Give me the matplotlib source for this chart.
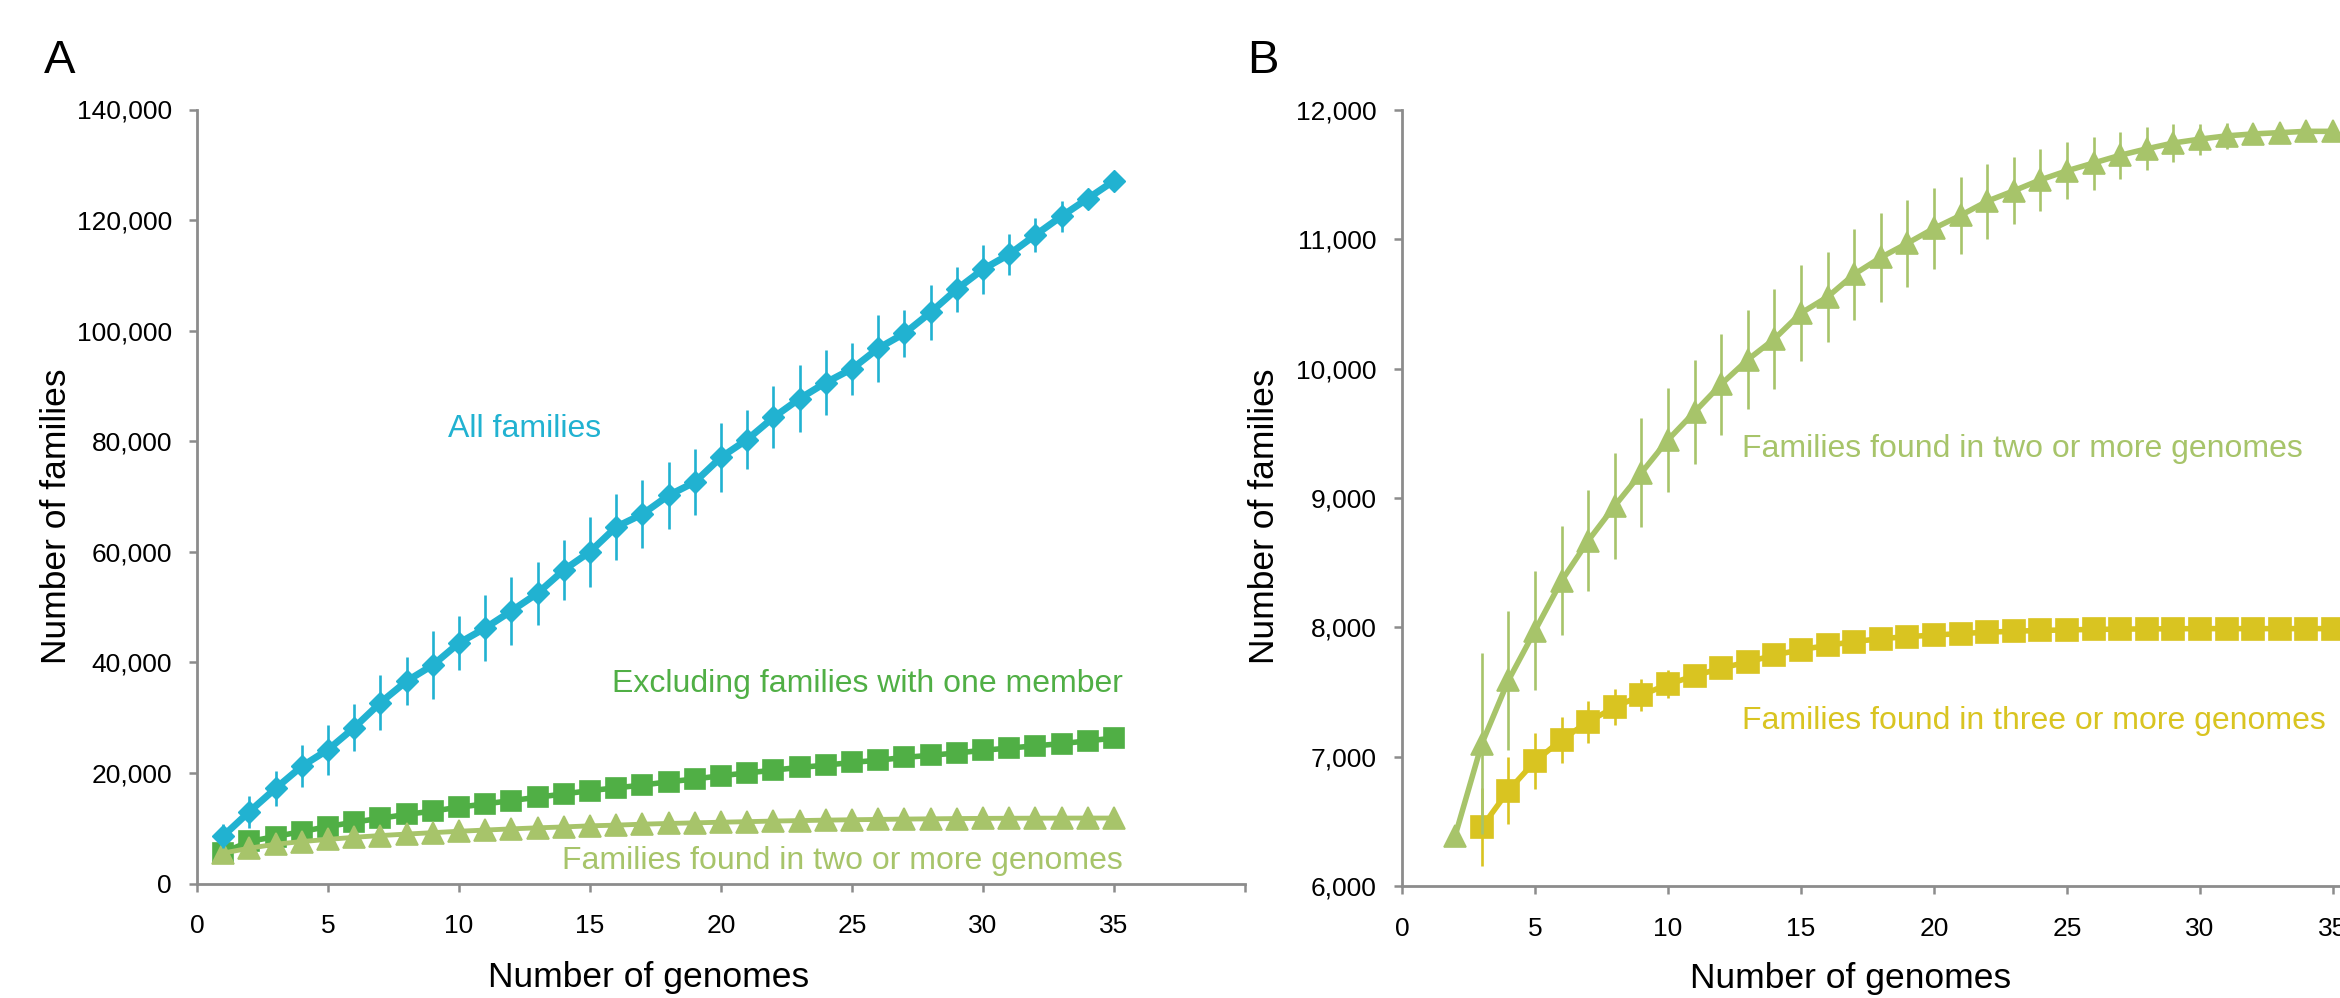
import matplotlib
matplotlib.use('Agg')
import matplotlib.pyplot as plt
from matplotlib.ticker import FuncFormatter

plt.rcParams['font.family'] = ['Liberation Sans', 'DejaVu Sans']

# ---------------- data ----------------
genomes = list(range(1, 36))

all_families = [8600, 13000, 17200, 21200, 24200, 28200, 32700, 36600, 39500, 43500,
                46200, 49300, 52500, 56700, 60000, 64500, 66800, 70200, 72600, 77100,
                80300, 84300, 87700, 90600, 93100, 96800, 99500, 103300, 107500, 111100,
                113800, 117300, 120700, 123900, 127100]
all_families_err = [2100, 2900, 3200, 3800, 4500, 4300, 5000, 4400, 6200, 4800,
                    5900, 6100, 5700, 5500, 6300, 5900, 6200, 6100, 6000, 6200,
                    5400, 5600, 6000, 5900, 4700, 6000, 4200, 5000, 4100, 4400,
                    3700, 3100, 2800, 1200, 0]

excl_single = [5600, 7600, 8500, 9400, 10300, 11100, 11800, 12500, 13100, 13800,
               14400, 15000, 15600, 16200, 16800, 17300, 17800, 18400, 18900, 19500,
               20000, 20500, 21000, 21400, 21900, 22300, 22800, 23200, 23600, 24100,
               24500, 24900, 25300, 25800, 26300]

# families found in two or more genomes (genomes 2..35); panel A also shows genome 1
two_more_genome1 = 5500
two_more_genomes = list(range(2, 36))
two_more = [6390, 7100, 7590, 7975, 8360, 8670, 8940, 9195, 9450, 9665,
            9880, 10070, 10230, 10430, 10555, 10730, 10860, 10970, 11085, 11185,
            11295, 11375, 11460, 11530, 11590, 11650, 11700, 11745, 11775, 11800,
            11815, 11825, 11835, 11835]
two_more_err = [0, 700, 540, 460, 420, 390, 410, 420, 400, 400,
                390, 380, 385, 370, 345, 350, 345, 335, 315, 300,
                290, 258, 240, 220, 205, 182, 165, 145, 120, 100,
                55, 25, 0, 0]

# families found in three or more genomes (genomes 3..35)
three_more_genomes = list(range(3, 36))
three_more = [6455, 6738, 6965, 7130, 7270, 7383, 7475, 7560, 7625, 7685,
              7732, 7785, 7828, 7860, 7890, 7912, 7928, 7940, 7952, 7962,
              7970, 7976, 7980, 7984, 7986, 7988, 7989, 7990, 7990, 7990,
              7990, 7990, 7990]
three_more_err = [300, 262, 218, 178, 162, 140, 125, 110, 80, 65,
                  50, 40, 30, 25, 20, 15, 10, 0, 0, 0,
                  0, 0, 0, 0, 0, 0, 0, 0, 0, 0,
                  0, 0, 0]

x_ticks = [0, 5, 10, 15, 20, 25, 30, 35, 40]
x_tick_labels = ['0', '5', '10', '15', '20', '25', '30', '35', '']
yA_ticks = [0, 20000, 40000, 60000, 80000, 100000, 120000, 140000]
yB_ticks = [6000, 7000, 8000, 9000, 10000, 11000, 12000]

# ---------------- style ----------------
BLUE = '#21B2D1'
GREEN = '#50AF45'
LGREEN = '#A7C46A'
YELLOW = '#D9C421'
AXC = '#8C8C8C'
W, H = 2340, 998

fig = plt.figure(figsize=(W / 100, H / 100), dpi=100)
axA = fig.add_axes([197 / W, (H - 883.5) / H, 1048 / W, 774 / H])
axB = fig.add_axes([1402 / W, (H - 886) / H, 1064 / W, 776 / H])

# ---------------- panel A ----------------
axA.plot(genomes, excl_single, color=GREEN, marker='s', ms=15, mec=GREEN, mew=1.2,
         lw=4, solid_joinstyle='round', zorder=3, clip_on=False)
axA.plot(genomes, [two_more_genome1] + two_more, color=LGREEN, marker='^', ms=15.5,
         mec=LGREEN, mew=1.2, lw=3.5, solid_joinstyle='round', zorder=4, clip_on=False)
axA.errorbar(genomes, all_families, yerr=all_families_err, color=BLUE, marker='D',
             ms=11.5, mec=BLUE, lw=5, elinewidth=1.9, capsize=0, zorder=5,
             solid_joinstyle='round')
axA.set_xlim(0, 40)
axA.set_ylim(0, 140000)
axA.set_yticks(yA_ticks)

axA.text(9.58, 80750, 'All families', color=BLUE, fontsize=23, ha='left', va='baseline')
axA.text(35.35, 34600, 'Excluding families with one member', color=GREEN, fontsize=23,
         ha='right', va='baseline')
axA.text(35.35, 2600, 'Families found in two or more genomes', color=LGREEN, fontsize=23,
         ha='right', va='baseline')

# ---------------- panel B ----------------
axB.errorbar(two_more_genomes, two_more, yerr=two_more_err, color=LGREEN, marker='^',
             ms=15.5, mec=LGREEN, mew=1.2, lw=4, elinewidth=1.9, capsize=0, zorder=4,
             solid_joinstyle='round')
axB.errorbar(three_more_genomes, three_more, yerr=three_more_err, color=YELLOW, marker='s',
             ms=15.5, mec=YELLOW, mew=1.2, lw=4, elinewidth=1.9, capsize=0, zorder=3,
             solid_joinstyle='round')
axB.set_xlim(0, 40)
axB.set_ylim(6000, 12000)
axB.set_yticks(yB_ticks)

axB.text(12.78, 9318, 'Families found in two or more genomes', color=LGREEN, fontsize=23,
         ha='left', va='baseline')
axB.text(12.78, 7214, 'Families found in three or more genomes', color=YELLOW, fontsize=23,
         ha='left', va='baseline')

# ---------------- axes styling ----------------
fmt = FuncFormatter(lambda v, p: f'{int(v):,}')
for ax in (axA, axB):
    for s in ('top', 'right'):
        ax.spines[s].set_visible(False)
    for s in ('left', 'bottom'):
        ax.spines[s].set_color(AXC)
        ax.spines[s].set_linewidth(2)
    ax.set_xticks(x_ticks)
    ax.set_xticklabels(x_tick_labels)
    ax.yaxis.set_major_formatter(fmt)
    ax.tick_params(direction='out', length=6, width=1.8, color=AXC,
                   labelsize=19, labelcolor='black')
    ax.tick_params(axis='y', pad=12)
    ax.tick_params(axis='x', pad=16)
    ax.set_xlabel('Number of genomes', fontsize=25.5, va='center')
    ax.set_ylabel('Number of families', fontsize=25.5, va='center')

axA.xaxis.set_label_coords(0.431, -0.122)
axA.yaxis.set_label_coords(-0.1336, 0.4748)
axB.xaxis.set_label_coords(0.422, -0.1186)
axB.yaxis.set_label_coords(-0.1288, 0.4768)

fig.text(44 / W, 1 - 73 / H, 'A', fontsize=34, ha='left', va='baseline')
fig.text(1247 / W, 1 - 73 / H, 'B', fontsize=34, ha='left', va='baseline')

fig.savefig('out.png', dpi=100)
